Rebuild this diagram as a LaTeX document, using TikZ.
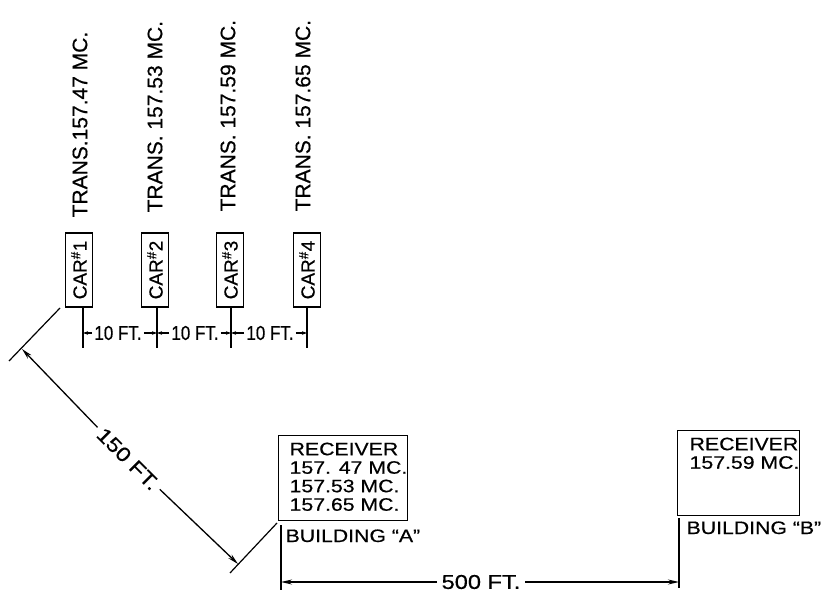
\documentclass[tikz,border=0pt]{standalone}
\usepackage{fontspec}
\setmainfont[FakeBold=0.5]{Liberation Sans}
\newfontfamily\widefont[FakeStretch=1.18,FakeBold=0.5]{Liberation Sans}
\newfontfamily\narrowfont[FakeStretch=0.85,FakeBold=0.5]{Liberation Sans}
\usetikzlibrary{arrows.meta}
\newcommand\rcvtext[2]{\vbox to 85pt{\hsize=#1\baselineskip=18.5pt\lineskiplimit=-20pt\vskip 7pt #2\vfil}}
\begin{document}
\begin{tikzpicture}[x=1pt,y=-1pt,line width=1.3pt,
  trans/.style={rotate=90,anchor=west,inner sep=0pt,font=\fontsize{21}{21}\selectfont},
  carbox/.style={draw,rotate=90,minimum width=74pt,minimum height=27pt,inner sep=0pt,font=\fontsize{19}{19}\selectfont},
  dimtext/.style={inner sep=1.5pt,font=\narrowfont\fontsize{20}{20}\selectfont},
  bigdim/.style={inner sep=4pt,font=\widefont\fontsize{20}{20}\selectfont},
  smalltip/.style={-{Stealth[length=5pt,width=3.5pt]}},
  bigtip/.style={-{Stealth[length=11pt,width=5pt]}},
  rcvbox/.style={draw,inner sep=0pt,anchor=north west,font=\widefont\fontsize{18}{18}\selectfont},
  bldg/.style={anchor=base west,inner sep=0pt,font=\widefont\fontsize{18}{18}\selectfont},
  extline/.style={line width=1.2pt}]
\useasboundingbox (0,0) rectangle (827,593);

% transmitter labels
\node[trans] (t1) at (80,218) {TRANS.157.47 MC.};
\node[trans] (t2) at (155,213) {TRANS. 157.53 MC.};
\node[trans] (t3) at (228,212) {TRANS. 157.59 MC.};
\node[trans] (t4) at (303,212) {TRANS. 157.65 MC.};

% cars
\node[carbox] (car1) at (79,270) {CAR\textsuperscript{\#}1};
\node[carbox] (car2) at (155,270) {CAR\textsuperscript{\#}2};
\node[carbox] (car3) at (230,270) {CAR\textsuperscript{\#}3};
\node[carbox] (car4) at (307,270) {CAR\textsuperscript{\#}4};

% 10 ft dimensions
\coordinate (e1t) at (83,308);  \coordinate (e1b) at (83,348);
\coordinate (e2t) at (157,308); \coordinate (e2b) at (157,348);
\coordinate (e3t) at (231,308); \coordinate (e3b) at (231,348);
\coordinate (e4t) at (307,308); \coordinate (e4b) at (307,348);
\draw[extline] (e1t) -- (e1b);
\draw[extline] (e2t) -- (e2b);
\draw[extline] (e3t) -- (e3b);
\draw[extline] (e4t) -- (e4b);
\coordinate (x1) at (83,333);
\coordinate (x2) at (157,333);
\coordinate (x3) at (231,333);
\coordinate (x4) at (307,333);
\node[dimtext] (d1) at (118,333) {10 FT.};
\node[dimtext] (d2) at (195,333) {10 FT.};
\node[dimtext] (d3) at (270,333) {10 FT.};
\draw[smalltip] (d1) -- (x1);
\draw[smalltip] (d1) -- (x2);
\draw[smalltip] (d2) -- (x2);
\draw[smalltip] (d2) -- (x3);
\draw[smalltip] (d3) -- (x3);
\draw[smalltip] (d3) -- (x4);

% 150 ft dimension
\coordinate (g1a) at (60,308); \coordinate (g1b) at (9,361);
\coordinate (g2a) at (277,523); \coordinate (g2b) at (230,573);
\draw[extline] (g1a) -- (g1b);
\draw[extline] (g2a) -- (g2b);
\coordinate (a150) at (22,349);
\coordinate (b150) at (238,564);
\node[bigdim,rotate=-45] (f150) at (128,459) {150 FT.};
\draw[bigtip] (f150) -- (a150);
\draw[bigtip] (f150) -- (b150);

% receivers
\node[rcvbox] (ra) at (278,435) {\rcvtext{137pt}{%
  \hbox{\hskip11pt RECEIVER}\hbox{\hskip11pt 157. 47 MC.}%
  \hbox{\hskip11pt 157.53 MC.}\hbox{\hskip11pt 157.65 MC.}}};
\node[rcvbox] (rb) at (677,430) {\rcvtext{140pt}{%
  \hbox{\hskip12pt RECEIVER}\hbox{\hskip12pt 157.59 MC.}}};

\node[bldg] (ba) at (285,542) {BUILDING “A”};
\node[bldg] (bb) at (686,534) {BUILDING “B”};

% 500 ft dimension
\coordinate (h1a) at (281,525); \coordinate (h1b) at (281,590);
\coordinate (h2a) at (679,518); \coordinate (h2b) at (679,588);
\draw[extline] (h1a) -- (h1b);
\draw[extline] (h2a) -- (h2b);
\coordinate (p1) at (281,582);
\coordinate (p2) at (679,582);
\node[bigdim] (f500) at (481,582) {500 FT.};
\draw[bigtip] (f500) -- (p1);
\draw[bigtip] (f500) -- (p2);
\end{tikzpicture}
\end{document}
